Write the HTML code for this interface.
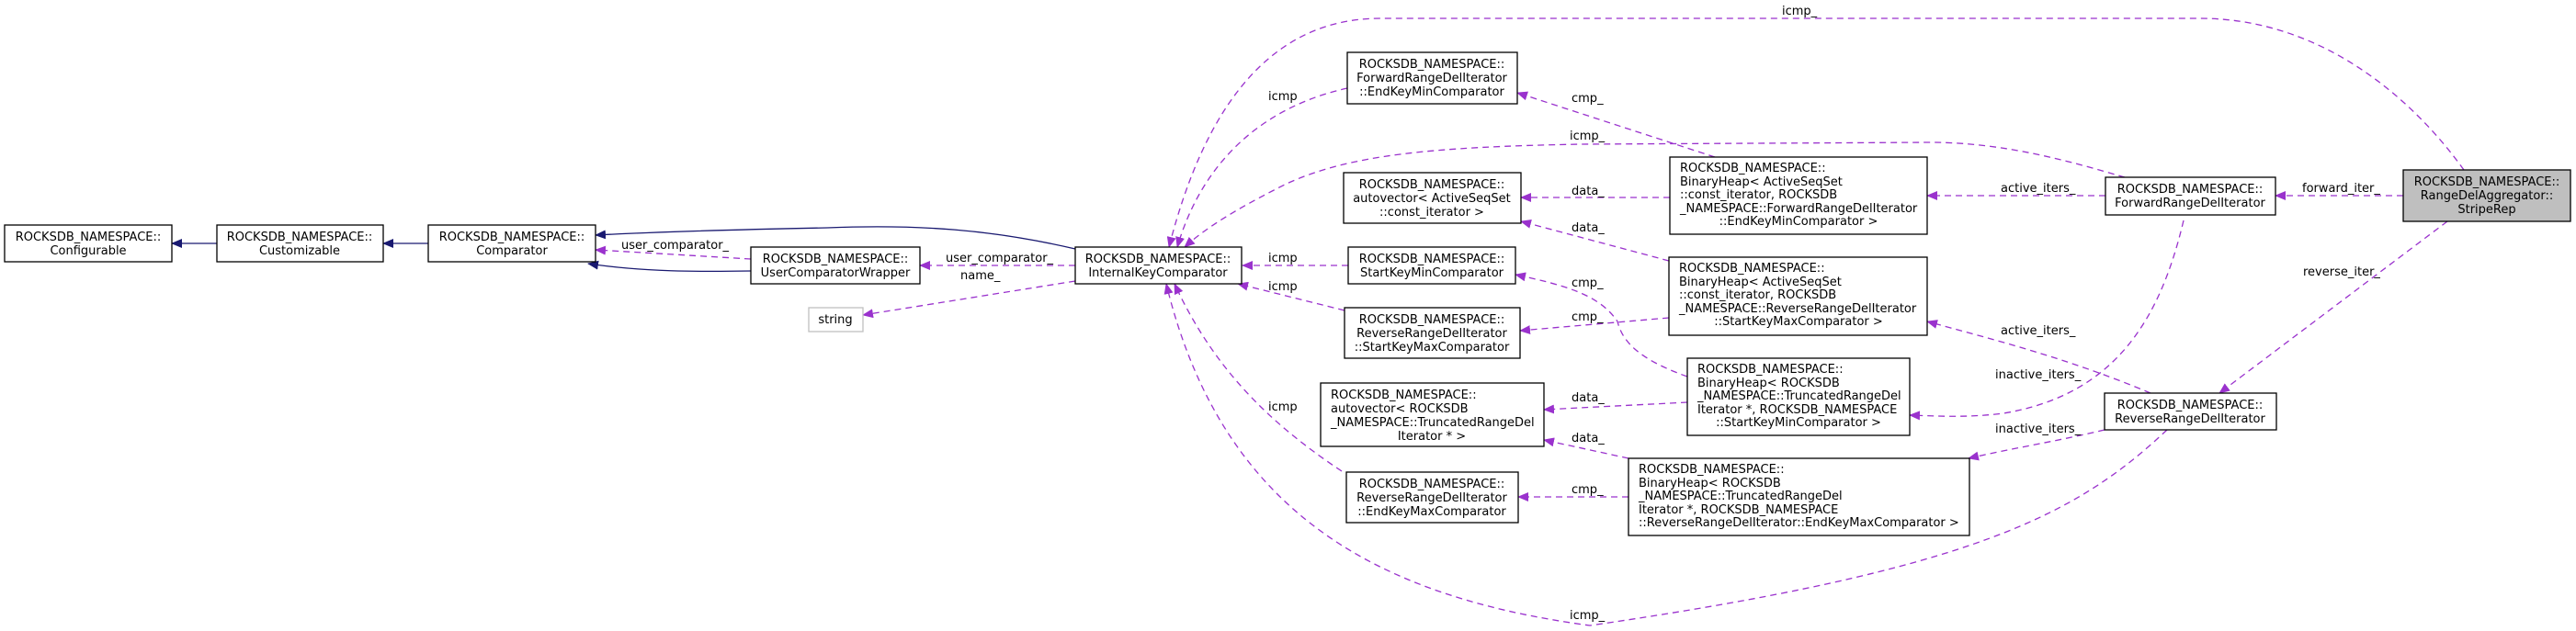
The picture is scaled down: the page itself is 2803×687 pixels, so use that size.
<!DOCTYPE html>
<html><head><meta charset="utf-8"><style>
html,body{margin:0;padding:0;background:#fff;}
svg{display:block;}
text{font-family:"DejaVu Sans","Liberation Sans",sans-serif;font-size:13px;fill:#000;}
.n{fill:#fff;stroke:#000;stroke-width:1.3;}
.e{fill:none;stroke:#9a32cd;stroke-width:1.3;stroke-dasharray:7,5;}
.s{fill:none;stroke:#191970;stroke-width:1.3;}
.c{text-anchor:middle;}
</style></head><body>
<svg width="2803" height="687" viewBox="0 0 2803 687" xmlns="http://www.w3.org/2000/svg">
<defs>
<marker id="ap" markerWidth="12" markerHeight="10" refX="11" refY="5" orient="auto" markerUnits="userSpaceOnUse"><path d="M0,0 L12,5 L0,10 Z" fill="#9a32cd"/></marker>
<marker id="an" markerWidth="12" markerHeight="10" refX="11" refY="5" orient="auto" markerUnits="userSpaceOnUse"><path d="M0,0 L12,5 L0,10 Z" fill="#191970"/></marker>
</defs>

<!-- solid inheritance edges -->
<path class="s" d="M236,265 L187,265" marker-end="url(#an)"/>
<path class="s" d="M466,265 L417,265" marker-end="url(#an)"/>
<path class="s" d="M1170,271 C1080,250 1000,244 900,248 C800,250 720,252 648,256" marker-end="url(#an)"/>
<path class="s" d="M817,295 C760,296 700,296 640,287" marker-end="url(#an)"/>

<!-- dashed edges -->
<path class="e" d="M817,282 L648,272" marker-end="url(#ap)"/>
<path class="e" d="M1170,289 L1001,289" marker-end="url(#ap)"/>
<path class="e" d="M1170,306 L939,343" marker-end="url(#ap)"/>
<text x="676" y="271">user_comparator_</text>
<text x="1029" y="285">user_comparator_</text>
<text x="1045" y="304">name_</text>

<!-- icmp_ from StripeRep -->
<path class="e" d="M2681,185 C2620,100 2520,20 2394,20 L1502,20 C1380,20 1310,120 1272,269" marker-end="url(#ap)"/>
<text x="1939" y="16">icmp_</text>
<!-- icmp FwdEKM -->
<path class="e" d="M1466,96 C1380,115 1310,170 1281,269" marker-end="url(#ap)"/>
<text x="1380" y="109">icmp</text>
<!-- icmp_ FRDI -->
<path class="e" d="M2312,193 C2250,175 2180,155 2100,155 L1720,157 C1560,160 1470,168 1400,200 C1340,230 1310,250 1289,269" marker-end="url(#ap)"/>
<text x="1708" y="152">icmp_</text>
<path class="e" d="M1467,289 L1352,289" marker-end="url(#ap)"/>
<text x="1380" y="285">icmp</text>
<path class="e" d="M1463,338 L1347,309" marker-end="url(#ap)"/>
<text x="1380" y="316">icmp</text>
<path class="e" d="M1460,513 C1380,460 1320,400 1278,309" marker-end="url(#ap)"/>
<text x="1380" y="447">icmp</text>
<path class="e" d="M2358,468 C2260,560 2150,620 1730,681 C1500,650 1330,560 1269,309" marker-end="url(#ap)"/>
<text x="1708" y="674">icmp_</text>

<path class="e" d="M1866,171 L1651,101" marker-end="url(#ap)"/>
<text x="1710" y="111">cmp_</text>
<path class="e" d="M1817,215 L1655,215" marker-end="url(#ap)"/>
<text x="1710" y="212">data_</text>
<path class="e" d="M1816,284 L1655,241" marker-end="url(#ap)"/>
<text x="1710" y="252">data_</text>
<path class="e" d="M1816,346 L1654,360" marker-end="url(#ap)"/>
<text x="1710" y="349">cmp_</text>
<path class="e" d="M1836,410 C1780,390 1765,370 1760,350 C1740,320 1700,310 1649,299" marker-end="url(#ap)"/>
<text x="1710" y="312">cmp_</text>
<path class="e" d="M1836,438 L1680,446" marker-end="url(#ap)"/>
<text x="1710" y="437">data_</text>
<path class="e" d="M1772,499 L1680,479" marker-end="url(#ap)"/>
<text x="1710" y="481">data_</text>
<path class="e" d="M1772,541 L1652,541" marker-end="url(#ap)"/>
<text x="1710" y="537">cmp_</text>

<path class="e" d="M2291,213 L2097,213" marker-end="url(#ap)"/>
<text x="2177" y="209">active_iters_</text>
<path class="e" d="M2340,428 C2250,390 2170,370 2097,350" marker-end="url(#ap)"/>
<text x="2177" y="364">active_iters_</text>
<path class="e" d="M2376,240 C2350,350 2300,430 2180,450 C2140,455 2110,453 2078,452" marker-end="url(#ap)"/>
<text x="2171" y="412">inactive_iters_</text>
<path class="e" d="M2290,468 C2240,480 2190,488 2142,499" marker-end="url(#ap)"/>
<text x="2171" y="471">inactive_iters_</text>
<path class="e" d="M2615,213 L2476,213" marker-end="url(#ap)"/>
<text x="2505" y="209">forward_iter_</text>
<path class="e" d="M2663,241 L2415,428" marker-end="url(#ap)"/>
<text x="2506" y="300">reverse_iter_</text>

<!-- nodes -->
<rect class="n" x="5" y="245" width="182" height="40"/>
<text class="c" x="96" y="262">ROCKSDB_NAMESPACE::</text><text class="c" x="96" y="277">Configurable</text>
<rect class="n" x="236" y="245" width="181" height="40"/>
<text class="c" x="326" y="262">ROCKSDB_NAMESPACE::</text><text class="c" x="326" y="277">Customizable</text>
<rect class="n" x="466" y="245" width="182" height="40"/>
<text class="c" x="557" y="262">ROCKSDB_NAMESPACE::</text><text class="c" x="557" y="277">Comparator</text>
<rect class="n" x="817" y="269" width="184" height="40"/>
<text class="c" x="909" y="286">ROCKSDB_NAMESPACE::</text><text class="c" x="909" y="301">UserComparatorWrapper</text>
<rect x="880" y="335" width="59" height="26" fill="#fff" stroke="#bfbfbf" stroke-width="1.3"/>
<text class="c" x="909" y="352">string</text>
<rect class="n" x="1170" y="269" width="181" height="40"/>
<text class="c" x="1260" y="286">ROCKSDB_NAMESPACE::</text><text class="c" x="1260" y="301">InternalKeyComparator</text>

<rect class="n" x="1466" y="57" width="185" height="56"/>
<text class="c" x="1558" y="74">ROCKSDB_NAMESPACE::</text><text class="c" x="1558" y="89">ForwardRangeDelIterator</text><text class="c" x="1558" y="104">::EndKeyMinComparator</text>
<rect class="n" x="1462" y="188" width="193" height="55"/>
<text class="c" x="1558" y="205">ROCKSDB_NAMESPACE::</text><text class="c" x="1558" y="220">autovector&lt; ActiveSeqSet</text><text class="c" x="1558" y="235">::const_iterator &gt;</text>
<rect class="n" x="1467" y="269" width="182" height="40"/>
<text class="c" x="1558" y="286">ROCKSDB_NAMESPACE::</text><text class="c" x="1558" y="301">StartKeyMinComparator</text>
<rect class="n" x="1463" y="335" width="191" height="55"/>
<text class="c" x="1558" y="352">ROCKSDB_NAMESPACE::</text><text class="c" x="1558" y="367">ReverseRangeDelIterator</text><text class="c" x="1558" y="382">::StartKeyMaxComparator</text>
<rect class="n" x="1437" y="417" width="243" height="69"/>
<text x="1448" y="434">ROCKSDB_NAMESPACE::</text><text x="1448" y="449">autovector&lt; ROCKSDB</text><text x="1448" y="464">_NAMESPACE::TruncatedRangeDel</text><text class="c" x="1558" y="479">Iterator * &gt;</text>
<rect class="n" x="1465" y="514" width="187" height="55"/>
<text class="c" x="1558" y="531">ROCKSDB_NAMESPACE::</text><text class="c" x="1558" y="546">ReverseRangeDelIterator</text><text class="c" x="1558" y="561">::EndKeyMaxComparator</text>

<rect class="n" x="1817" y="171" width="280" height="84"/>
<text x="1828" y="187">ROCKSDB_NAMESPACE::</text><text x="1828" y="202">BinaryHeap&lt; ActiveSeqSet</text><text x="1828" y="216">::const_iterator, ROCKSDB</text><text x="1828" y="231">_NAMESPACE::ForwardRangeDelIterator</text><text class="c" x="1957" y="245">::EndKeyMinComparator &gt;</text>
<rect class="n" x="1816" y="280" width="281" height="85"/>
<text x="1827" y="296">ROCKSDB_NAMESPACE::</text><text x="1827" y="311">BinaryHeap&lt; ActiveSeqSet</text><text x="1827" y="325">::const_iterator, ROCKSDB</text><text x="1827" y="340">_NAMESPACE::ReverseRangeDelIterator</text><text class="c" x="1957" y="354">::StartKeyMaxComparator &gt;</text>
<rect class="n" x="1836" y="390" width="242" height="84"/>
<text x="1847" y="406">ROCKSDB_NAMESPACE::</text><text x="1847" y="421">BinaryHeap&lt; ROCKSDB</text><text x="1847" y="435">_NAMESPACE::TruncatedRangeDel</text><text x="1847" y="450">Iterator *, ROCKSDB_NAMESPACE</text><text class="c" x="1957" y="464">::StartKeyMinComparator &gt;</text>
<rect class="n" x="1772" y="499" width="371" height="84"/>
<text x="1783" y="515">ROCKSDB_NAMESPACE::</text><text x="1783" y="530">BinaryHeap&lt; ROCKSDB</text><text x="1783" y="544">_NAMESPACE::TruncatedRangeDel</text><text x="1783" y="559">Iterator *, ROCKSDB_NAMESPACE</text><text x="1783" y="573">::ReverseRangeDelIterator::EndKeyMaxComparator &gt;</text>

<rect class="n" x="2291" y="193" width="185" height="41"/>
<text class="c" x="2383" y="210">ROCKSDB_NAMESPACE::</text><text class="c" x="2383" y="225">ForwardRangeDelIterator</text>
<rect class="n" x="2290" y="428" width="187" height="40"/>
<text class="c" x="2383" y="445">ROCKSDB_NAMESPACE::</text><text class="c" x="2383" y="460">ReverseRangeDelIterator</text>
<rect x="2615" y="185" width="182" height="56" fill="#bfbfbf" stroke="#000" stroke-width="1.3"/>
<text class="c" x="2706" y="202">ROCKSDB_NAMESPACE::</text><text class="c" x="2706" y="217">RangeDelAggregator::</text><text class="c" x="2706" y="232">StripeRep</text>
</svg>
</body></html>
